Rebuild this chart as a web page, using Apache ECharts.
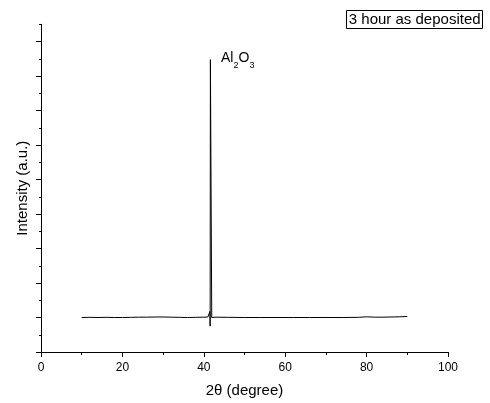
<!DOCTYPE html>
<html>
<head>
<meta charset="utf-8">
<script src="https://cdn.jsdelivr.net/npm/echarts@6/dist/echarts.min.js"></script>
<style>html,body{margin:0;padding:0;background:#fff}#c{width:490px;height:403px}</style>
</head>
<body>
<div id="c"></div>
<script>
// 2θ (degree) positions and intensity (a.u.)
var twoTheta = [10, 12, 14, 16, 18, 20, 22, 24, 26, 28, 30, 32, 34, 36, 38, 40, 41, 41.4,
                41.5, 41.56, 41.62, 41.86, 41.95, 42.3, 43, 46, 50, 54, 58, 62, 66, 70,
                74, 78, 80, 82, 84, 86, 88, 90];
var intensity = [2.0, 2.01, 2.0, 2.01, 2.0, 2.0, 2.01, 2.02, 2.02, 2.03, 2.03, 2.02, 2.01, 2.0, 2.01, 2.02, 2.03, 2.05,
                 2.35, 1.5, 16.95, 16.95, 2.0, 2.04, 2.02, 2.01, 2.0, 2.0, 2.0, 2.0, 2.0, 2.0,
                 2.0, 2.01, 2.04, 2.02, 2.02, 2.03, 2.04, 2.06];
var xTicks = [0, 20, 40, 60, 80, 100];
var yMajorTicks = [0, 2, 4, 6, 8, 10, 12, 14, 16, 18];
var peakLabelParts = ['Al', '2', 'O', '3'];
var sampleLabel = '3 hour as deposited';

var data = twoTheta.map(function (t, i) { return [t, intensity[i]]; });
var chart = echarts.init(document.getElementById('c'), null, {renderer: 'canvas'});
var font = 'Liberation Sans, Arial, sans-serif';

function txt(s, x, y, size) {
  return {type: 'text', x: x, y: y,
          style: {text: s, fontFamily: font, fontSize: size, fill: '#000',
                  align: 'left', verticalAlign: 'middle'}};
}

chart.setOption({
  animation: false,
  backgroundColor: '#fff',
  grid: {left: 41, right: 42, top: 24.3, bottom: 50, containLabel: false},
  xAxis: {
    type: 'value', min: 0, max: 100, interval: 20,
    name: '2θ (degree)', nameLocation: 'middle', nameGap: 31,
    nameTextStyle: {fontFamily: font, fontSize: 15, color: '#000'},
    axisLine: {lineStyle: {color: '#000', width: 1}},
    axisTick: {length: 5, lineStyle: {color: '#000'}},
    minorTick: {show: true, splitNumber: 2, length: 3, lineStyle: {color: '#000'}},
    axisLabel: {fontFamily: font, fontSize: 12, color: '#000', margin: 10,
                customValues: xTicks},
    splitLine: {show: false}
  },
  yAxis: [{
    type: 'value', min: 0, max: 19,
    name: 'Intensity (a.u.)', nameLocation: 'middle', nameGap: 11, nameRotate: 90,
    nameTextStyle: {fontFamily: font, fontSize: 15, color: '#000'},
    axisLine: {show: true, lineStyle: {color: '#000', width: 1}},
    axisTick: {show: true, length: 5, customValues: yMajorTicks, lineStyle: {color: '#000'}},
    axisLabel: {show: false},
    splitLine: {show: false}
  }, {
    type: 'value', min: 0, max: 19, interval: 1, position: 'left',
    axisLine: {show: false},
    axisTick: {show: true, length: 2, lineStyle: {color: '#000'}},
    axisLabel: {show: false},
    splitLine: {show: false}
  }],
  series: [{
    type: 'line', data: data, yAxisIndex: 0, showSymbol: false, symbol: 'none',
    lineStyle: {color: '#000', width: 1}, clip: false
  }],
  graphic: [{
    type: 'rect', shape: {x: 346.5, y: 10.5, width: 136, height: 18},
    style: {fill: '#fff', stroke: '#000', lineWidth: 1}
  }, {
    type: 'text', x: 414.7, y: 20,
    style: {text: sampleLabel, fontFamily: font, fontSize: 15, fill: '#000',
            align: 'center', verticalAlign: 'middle'}
  },
    txt(peakLabelParts[0], 221, 58.5, 14),
    txt(peakLabelParts[1], 233.4, 65.5, 9),
    txt(peakLabelParts[2], 238.6, 58.5, 14),
    txt(peakLabelParts[3], 249.6, 65.5, 9)
  ]
});
</script>
</body>
</html>
